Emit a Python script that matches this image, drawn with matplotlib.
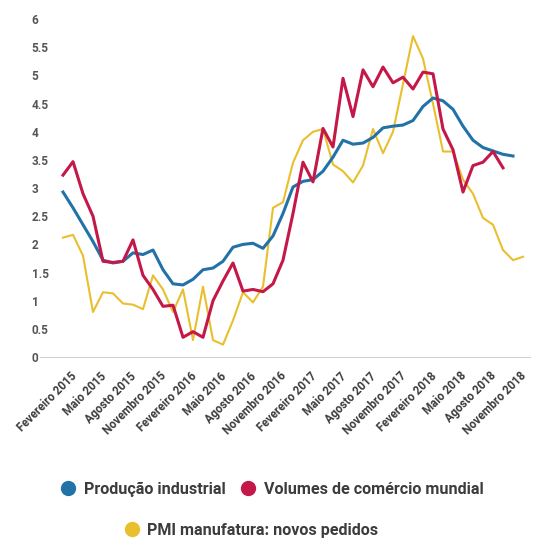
import matplotlib
matplotlib.use("Agg")
import matplotlib.pyplot as plt
from matplotlib.lines import Line2D
from matplotlib.transforms import ScaledTranslation


# Data (monthly, starting February 2015)
#----------------------------------------------------------------------------------------------------
producao_industrial = [2.93, 2.65, 2.35, 2.05, 1.72, 1.67, 1.70, 1.85, 1.82, 1.90,
                       1.55, 1.30, 1.28, 1.38, 1.55, 1.58, 1.70, 1.95, 2.00, 2.02,
                       1.93, 2.15, 2.55, 3.02, 3.12, 3.15, 3.30, 3.55, 3.85, 3.78,
                       3.80, 3.90, 4.07, 4.10, 4.12, 4.20, 4.45, 4.60, 4.55, 4.40,
                       4.10, 3.85, 3.72, 3.66, 3.60, 3.57]

volumes_comercio = [3.23, 3.47, 2.90, 2.50, 1.70, 1.68, 1.70, 2.08, 1.45, 1.20,
                    0.90, 0.92, 0.35, 0.45, 0.35, 1.00, 1.35, 1.67, 1.17, 1.20,
                    1.16, 1.30, 1.72, 2.55, 3.46, 3.11, 4.06, 3.73, 4.95, 4.27,
                    5.10, 4.80, 5.15, 4.87, 4.97, 4.76, 5.06, 5.03, 4.05, 3.68,
                    2.93, 3.40, 3.46, 3.65, 3.36]

pmi_novos_pedidos = [2.12, 2.17, 1.80, 0.80, 1.15, 1.13, 0.95, 0.93, 0.85, 1.45,
                     1.20, 0.80, 1.20, 0.30, 1.25, 0.30, 0.22, 0.65, 1.15, 0.97,
                     1.25, 2.65, 2.75, 3.45, 3.85, 4.00, 4.05, 3.42, 3.30, 3.10,
                     3.40, 4.05, 3.62, 4.00, 4.85, 5.70, 5.30, 4.50, 3.65, 3.65,
                     3.15, 2.90, 2.47, 2.35, 1.90, 1.72, 1.78]

tick_labels = ["Fevereiro 2015", "Maio 2015", "Agosto 2015", "Novembro 2015",
               "Fevereiro 2016", "Maio 2016", "Agosto 2016", "Novembro 2016",
               "Fevereiro 2017", "Maio 2017", "Agosto 2017", "Novembro 2017",
               "Fevereiro 2018", "Maio 2018", "Agosto 2018", "Novembro 2018"]

y_ticks = [0, 0.5, 1, 1.5, 2, 2.5, 3, 3.5, 4, 4.5, 5, 5.5, 6]
y_tick_labels = ["0", "0.5", "1", "1.5", "2", "2.5", "3", "3.5", "4", "4.5", "5", "5.5", "6"]

labels = ["Produção industrial", "Volumes de comércio mundial", "PMI manufatura: novos pedidos"]


# Style
#----------------------------------------------------------------------------------------------------
plt.rcParams['font.family'] = ['Roboto', 'DejaVu Sans']

c_blue = '#2272a8'
c_red = '#c41848'
c_yellow = '#e9bf2e'
c_text = '#3c3c3c'


# Figure
#----------------------------------------------------------------------------------------------------
W, H = 544, 539
fig = plt.figure(figsize=(W / 100, H / 100), dpi=100)

ax_left, ax_right = 40, 530
ax_bottom, ax_top = 357, 11
ax = fig.add_axes([ax_left / W, 1 - ax_bottom / H, (ax_right - ax_left) / W, (ax_bottom - ax_top) / H])

ax.plot(range(len(pmi_novos_pedidos)), pmi_novos_pedidos, color=c_yellow, lw=1.5, zorder=2)
ax.plot(range(len(producao_industrial)), producao_industrial, color=c_blue, lw=2.2, zorder=3)
ax.plot(range(len(volumes_comercio)), volumes_comercio, color=c_red, lw=2.2, zorder=4)

ax.set_xlim((ax_left - 63) / 10, (ax_right - 63) / 10)
ax.set_ylim(0, (ax_bottom - ax_top) / 56.3)

ax.set_yticks(y_ticks)
ax.set_yticklabels(y_tick_labels, ha='left', fontsize=8.5, fontweight='bold', color='#555555')
ax.tick_params(axis='y', length=0, pad=6)

ax.set_xticks(range(0, 3 * len(tick_labels), 3))
ax.set_xticklabels(tick_labels, rotation=45, ha='right', va='top', rotation_mode='anchor',
                   fontsize=8.3, fontweight='bold', color=c_text)
ax.tick_params(axis='x', length=0, pad=9)
offset = ScaledTranslation(7 / 100, 0, fig.dpi_scale_trans)
for lab in ax.get_xticklabels():
    lab.set_transform(lab.get_transform() + offset)

for side in ['top', 'right', 'left']:
    ax.spines[side].set_visible(False)
ax.spines['bottom'].set_color('#d0d0d0')
ax.spines['bottom'].set_linewidth(0.8)


# Legend
#----------------------------------------------------------------------------------------------------
handles = [Line2D([], [], ls='', marker='o', markersize=10, color=c)
           for c in (c_blue, c_red, c_yellow)]

leg_font = {'size': 11.6, 'weight': 'bold'}
leg1 = fig.legend(handles[:2], labels[:2], ncol=2, loc='center',
                  bbox_to_anchor=(272 / W, 1 - 489 / H), frameon=False,
                  handletextpad=0.5, columnspacing=0.9, handlelength=1.0,
                  prop=leg_font)
leg2 = fig.legend(handles[2:], labels[2:], loc='center',
                  bbox_to_anchor=(251 / W, 1 - 530 / H), frameon=False,
                  handletextpad=0.4, handlelength=1.0,
                  prop=leg_font)
for leg in (leg1, leg2):
    for t in leg.get_texts():
        t.set_color(c_text)


fig.savefig('out.png', dpi=100)
